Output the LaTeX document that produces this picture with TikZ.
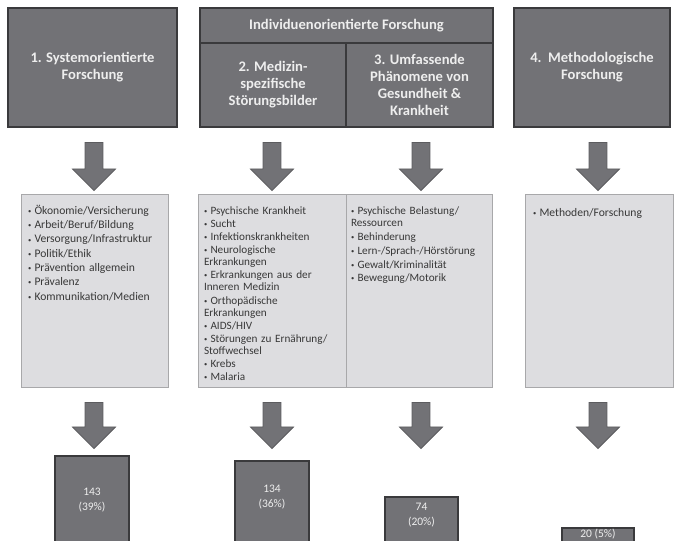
\documentclass[tikz,border=0pt]{standalone}
\usepackage{fontspec}
\setmainfont{Carlito}
\usetikzlibrary{shapes.arrows}

\definecolor{boxgray}{RGB}{114,114,118}
\definecolor{boxline}{RGB}{58,58,60}
\definecolor{arrowline}{RGB}{92,92,95}
\definecolor{listgray}{RGB}{221,221,224}
\definecolor{listline}{RGB}{168,168,170}
\definecolor{titletext}{RGB}{238,238,238}

\newcommand{\itm}[1]{\par\hangindent=6.5pt\hangafter=1\noindent\makebox[6.5pt][l]{\raisebox{0.9pt}{\fontsize{6.5}{6.5}\selectfont •}}#1}

\begin{document}
\begin{tikzpicture}
	[x=1pt,y=-1pt,inner sep=0pt,outer sep=0pt]
	\tikzstyle{topbox}=[draw=boxline,line width=1.8pt,fill=boxgray,text=titletext,font=\fontsize{14.6}{17}\selectfont\bfseries,align=center]
	\tikzstyle{listbox}=[draw=listline,line width=0.8pt,fill=listgray,minimum height=193pt]
	\tikzstyle{listtext}=[anchor=north west,text width=145pt,align=left,text=black!78]
	\tikzstyle{blockarrow}=[single arrow,shape border rotate=270,draw=arrowline,fill=boxgray,line width=0.8pt,inner sep=7.5pt,minimum width=43pt,single arrow head extend=11pt,single arrow head indent=0pt]
	\tikzstyle{bar}=[draw=boxline,line width=1.8pt,fill=boxgray,anchor=north,minimum height=120pt]
	\tikzstyle{bartext}=[text=titletext,font=\fontsize{11.5}{15}\selectfont,align=center]

	\useasboundingbox (0,0) rectangle (676,540);
	\clip (0,0) rectangle (676,540);

	% research areas
	\node[topbox,minimum width=169pt,minimum height=119pt] (sys)   at (92.5,67.5)  {1. Systemorientierte\\Forschung};
	\node[topbox,minimum width=293pt,minimum height=35pt]  (indiv) at (346.5,25.5) {Individuenorientierte Forschung};
	\node[topbox,minimum width=146pt,minimum height=84pt]  (med)   at (273,85)     {2. Medizin-\\spezifische\\Störungsbilder};
	\node[topbox,minimum width=147pt,minimum height=84pt]  (phaen) at (419.5,85)   {3. Umfassende\\Phänomene von\\Gesundheit \&\\Krankheit};
	\node[topbox,minimum width=156pt,minimum height=119pt] (meth)  at (592,67.5)   {4.\ \ Methodologische\\Forschung};

	% arrows down to topics
	\node[blockarrow,minimum height=48pt] (a1) at (94,162)  {};
	\node[blockarrow,minimum height=48pt] (a2) at (272,162) {};
	\node[blockarrow,minimum height=48pt] (a3) at (421,162) {};
	\node[blockarrow,minimum height=48pt] (a4) at (598,162) {};

	% topic lists
	\node[listbox,minimum width=147pt] (l1) at (94.5,290.5) {};
	\node[listbox,minimum width=148pt] (l2) at (272,290.5)  {};
	\node[listbox,minimum width=146pt] (l3) at (419,290.5)  {};
	\node[listbox,minimum width=148pt] (l4) at (599,290.5)  {};

	\node[listtext,font=\fontsize{11.6}{14.3}\selectfont] (t1) at ([shift={(7,6)}]l1.north west)
		{\itm{Ökonomie/Versicherung}\itm{Arbeit/Beruf/Bildung}\itm{Versorgung/Infrastruktur}\itm{Politik/Ethik}\itm{Prävention allgemein}\itm{Prävalenz}\itm{Kommunikation/Medien}};
	\node[listtext,font=\fontsize{11.2}{12.2}\selectfont,text width=140pt] (t2) at ([shift={(6,7)}]l2.north west)
		{\parskip=0.9pt\itm{Psychische Krankheit}\itm{Sucht}\itm{Infektionskrankheiten}\itm{Neurologische\\Erkrankungen}\itm{Erkrankungen aus der\\Inneren Medizin}\itm{Orthopädische\\Erkrankungen}\itm{AIDS/HIV}\itm{Störungen zu Ernährung/\\Stoffwechsel}\itm{Krebs}\itm{Malaria}};
	\node[listtext,font=\fontsize{11.2}{12.2}\selectfont,text width=140pt] (t3) at ([shift={(5,7)}]l3.north west)
		{\parskip=1.5pt\itm{Psychische Belastung/\\Ressourcen}\itm{Behinderung}\itm{Lern-/Sprach-/Hörstörung}\itm{Gewalt/Kriminalität}\itm{Bewegung/Motorik}};
	\node[listtext,font=\fontsize{11.6}{14.3}\selectfont] (t4) at ([shift={(8,8)}]l4.north west)
		{\itm{Methoden/Forschung}};

	% arrows down to counts
	\node[blockarrow,minimum height=46pt] (b1) at (94,421)  {};
	\node[blockarrow,minimum height=46pt] (b2) at (272,421) {};
	\node[blockarrow,minimum height=46pt] (b3) at (421,421) {};
	\node[blockarrow,minimum height=46pt] (b4) at (598,421) {};

	% counts
	\node[bar,minimum width=74pt] (c1) at (92,456)    {};
	\node[bar,minimum width=74pt] (c2) at (272,461)   {};
	\node[bar,minimum width=73pt] (c3) at (421.5,497) {};
	\node[bar,minimum width=72pt] (c4) at (598,528)   {};
	\node[bartext] (n1) at (92,500)    {143\\(39\%)};
	\node[bartext] (n2) at (272,497)   {134\\(36\%)};
	\node[bartext] (n3) at (421.5,515) {74\\(20\%)};
	\node[bartext] (n4) at (598,534)   {20 (5\%)};
\end{tikzpicture}
\end{document}
